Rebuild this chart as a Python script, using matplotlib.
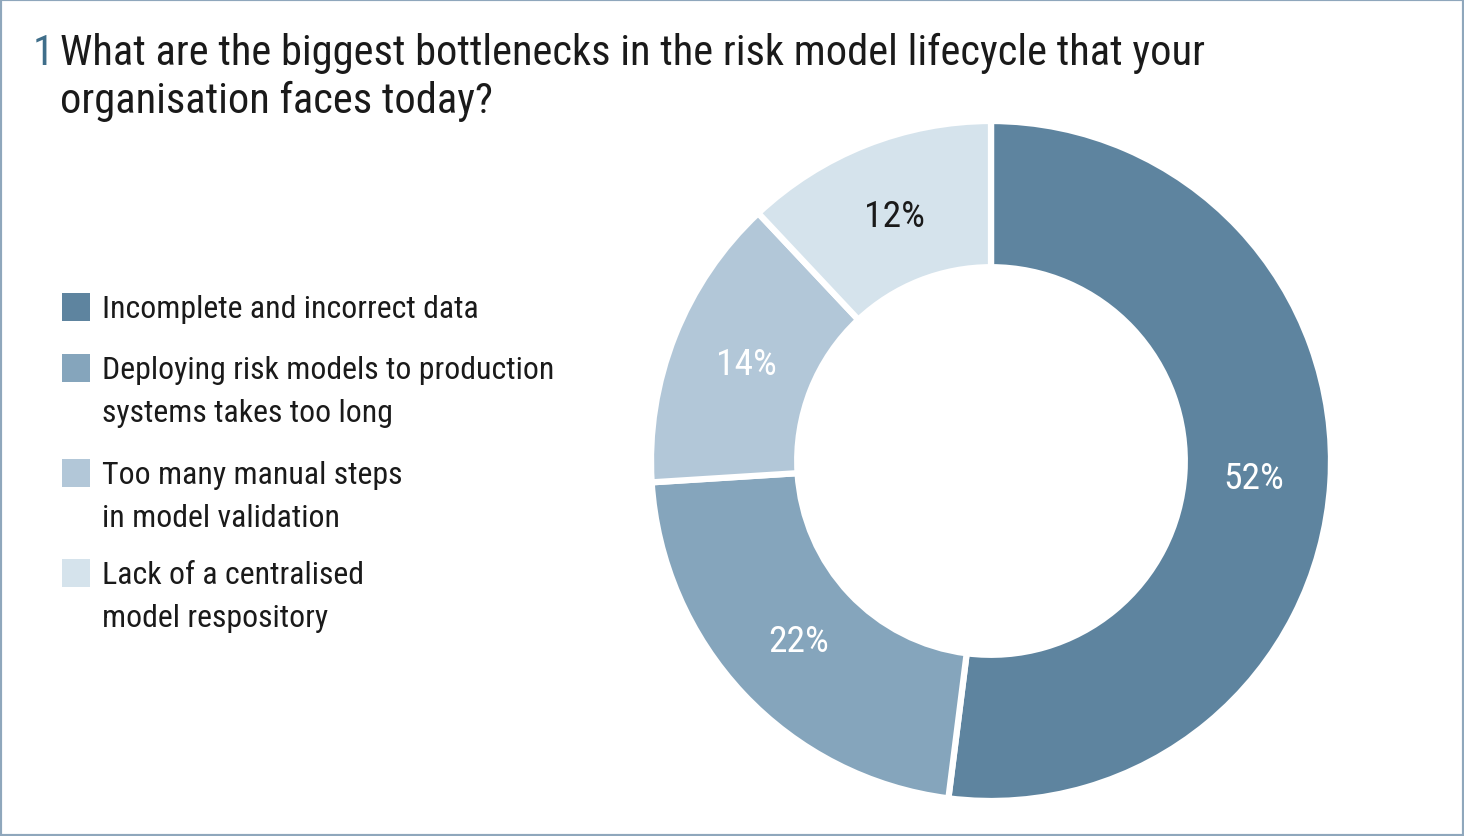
import matplotlib
matplotlib.use('Agg')
import matplotlib.pyplot as plt
import matplotlib.patches as mpatches
from matplotlib import font_manager
import numpy as np

names = {f.name for f in font_manager.fontManager.ttflist}
prefs = ['Roboto Condensed', 'Fira Sans Condensed', 'Encode Sans Condensed', 'PT Sans Narrow',
         'Open Sans Condensed', 'Asap Condensed', 'Archivo Narrow', 'Liberation Sans Narrow',
         'Liberation Sans']
main_font = next(p for p in prefs if p in names)
plt.rcParams['font.family'] = [main_font, 'DejaVu Sans']

# data
labels = ['Incomplete and incorrect data',
          'Deploying risk models to production\nsystems takes too long',
          'Too many manual steps\nin model validation',
          'Lack of a centralised\nmodel respository']
shares = [52, 22, 14, 12]
colors = ['#5e849f', '#85a5bc', '#b2c7d8', '#d5e3ec']
pct_colors = ['white', 'white', 'white', '#1a1a1a']
title = ['What are the biggest bottlenecks in the risk model lifecycle that your',
         'organisation faces today?']

W, H = 1464, 837
fig = plt.figure(figsize=(W / 100, H / 100), dpi=100)
fig.patch.set_facecolor('white')
renderer = fig.canvas.get_renderer()


def fit(texts, target_px):
    # scale font size so the first text is target_px wide
    w = texts[0].get_window_extent(renderer).width
    fs = texts[0].get_fontsize() * target_px / w
    for t in texts:
        t.set_fontsize(fs)


fig.add_artist(mpatches.Rectangle((0, 0), 1, 1, transform=fig.transFigure,
                                  fill=False, edgecolor='#8fa7bc', linewidth=3))

# title
t_num = fig.text(33 / W, 1 - 65 / H, '1', fontsize=30, color='#3f6e8a', va='baseline')
t1 = fig.text(60 / W, 1 - 65 / H, title[0], fontsize=30, color='#1a1a1a', va='baseline')
t2 = fig.text(60 / W, 1 - 113 / H, title[1], fontsize=30, color='#1a1a1a', va='baseline')
fit([t1, t2, t_num], 1148)

# donut
cx, cy, r = 991, 462, 340
ax = fig.add_axes([(cx - r) / W, (H - cy - r) / H, 2 * r / W, 2 * r / H])
wedges, _ = ax.pie(shares, colors=colors, startangle=90, counterclock=False,
                   radius=1, wedgeprops=dict(width=0.43, edgecolor='white', linewidth=4.5))
ang = 90.0
pct_texts = []
for v, c in zip(shares, pct_colors):
    mid = np.deg2rad(ang - v * 3.6 / 2)
    pct_texts.append(ax.text(0.775 * np.cos(mid), 0.775 * np.sin(mid), f'{v}%',
                             ha='center', va='center', fontsize=25, color=c))
    ang -= v * 3.6
fit(pct_texts, 61)
ax.set_xlim(-1, 1)
ax.set_ylim(-1, 1)
ax.axis('off')

# legend
box_top = [294, 355, 460, 560]
leg_texts = []
for lab, col, top in zip(labels, colors, box_top):
    fig.add_artist(mpatches.Rectangle((62 / W, 1 - (top + 28) / H), 28 / W, 28 / H,
                                      transform=fig.transFigure, facecolor=col, edgecolor='none'))
    for i, line in enumerate(lab.split('\n')):
        leg_texts.append(fig.text(102 / W, 1 - (top + 24 + 43 * i) / H, line, fontsize=23,
                                  color='#1a1a1a', va='baseline'))
fit([leg_texts[1]] + leg_texts[:1] + leg_texts[2:], 455)

fig.savefig('out.png', dpi=100, facecolor='white')
